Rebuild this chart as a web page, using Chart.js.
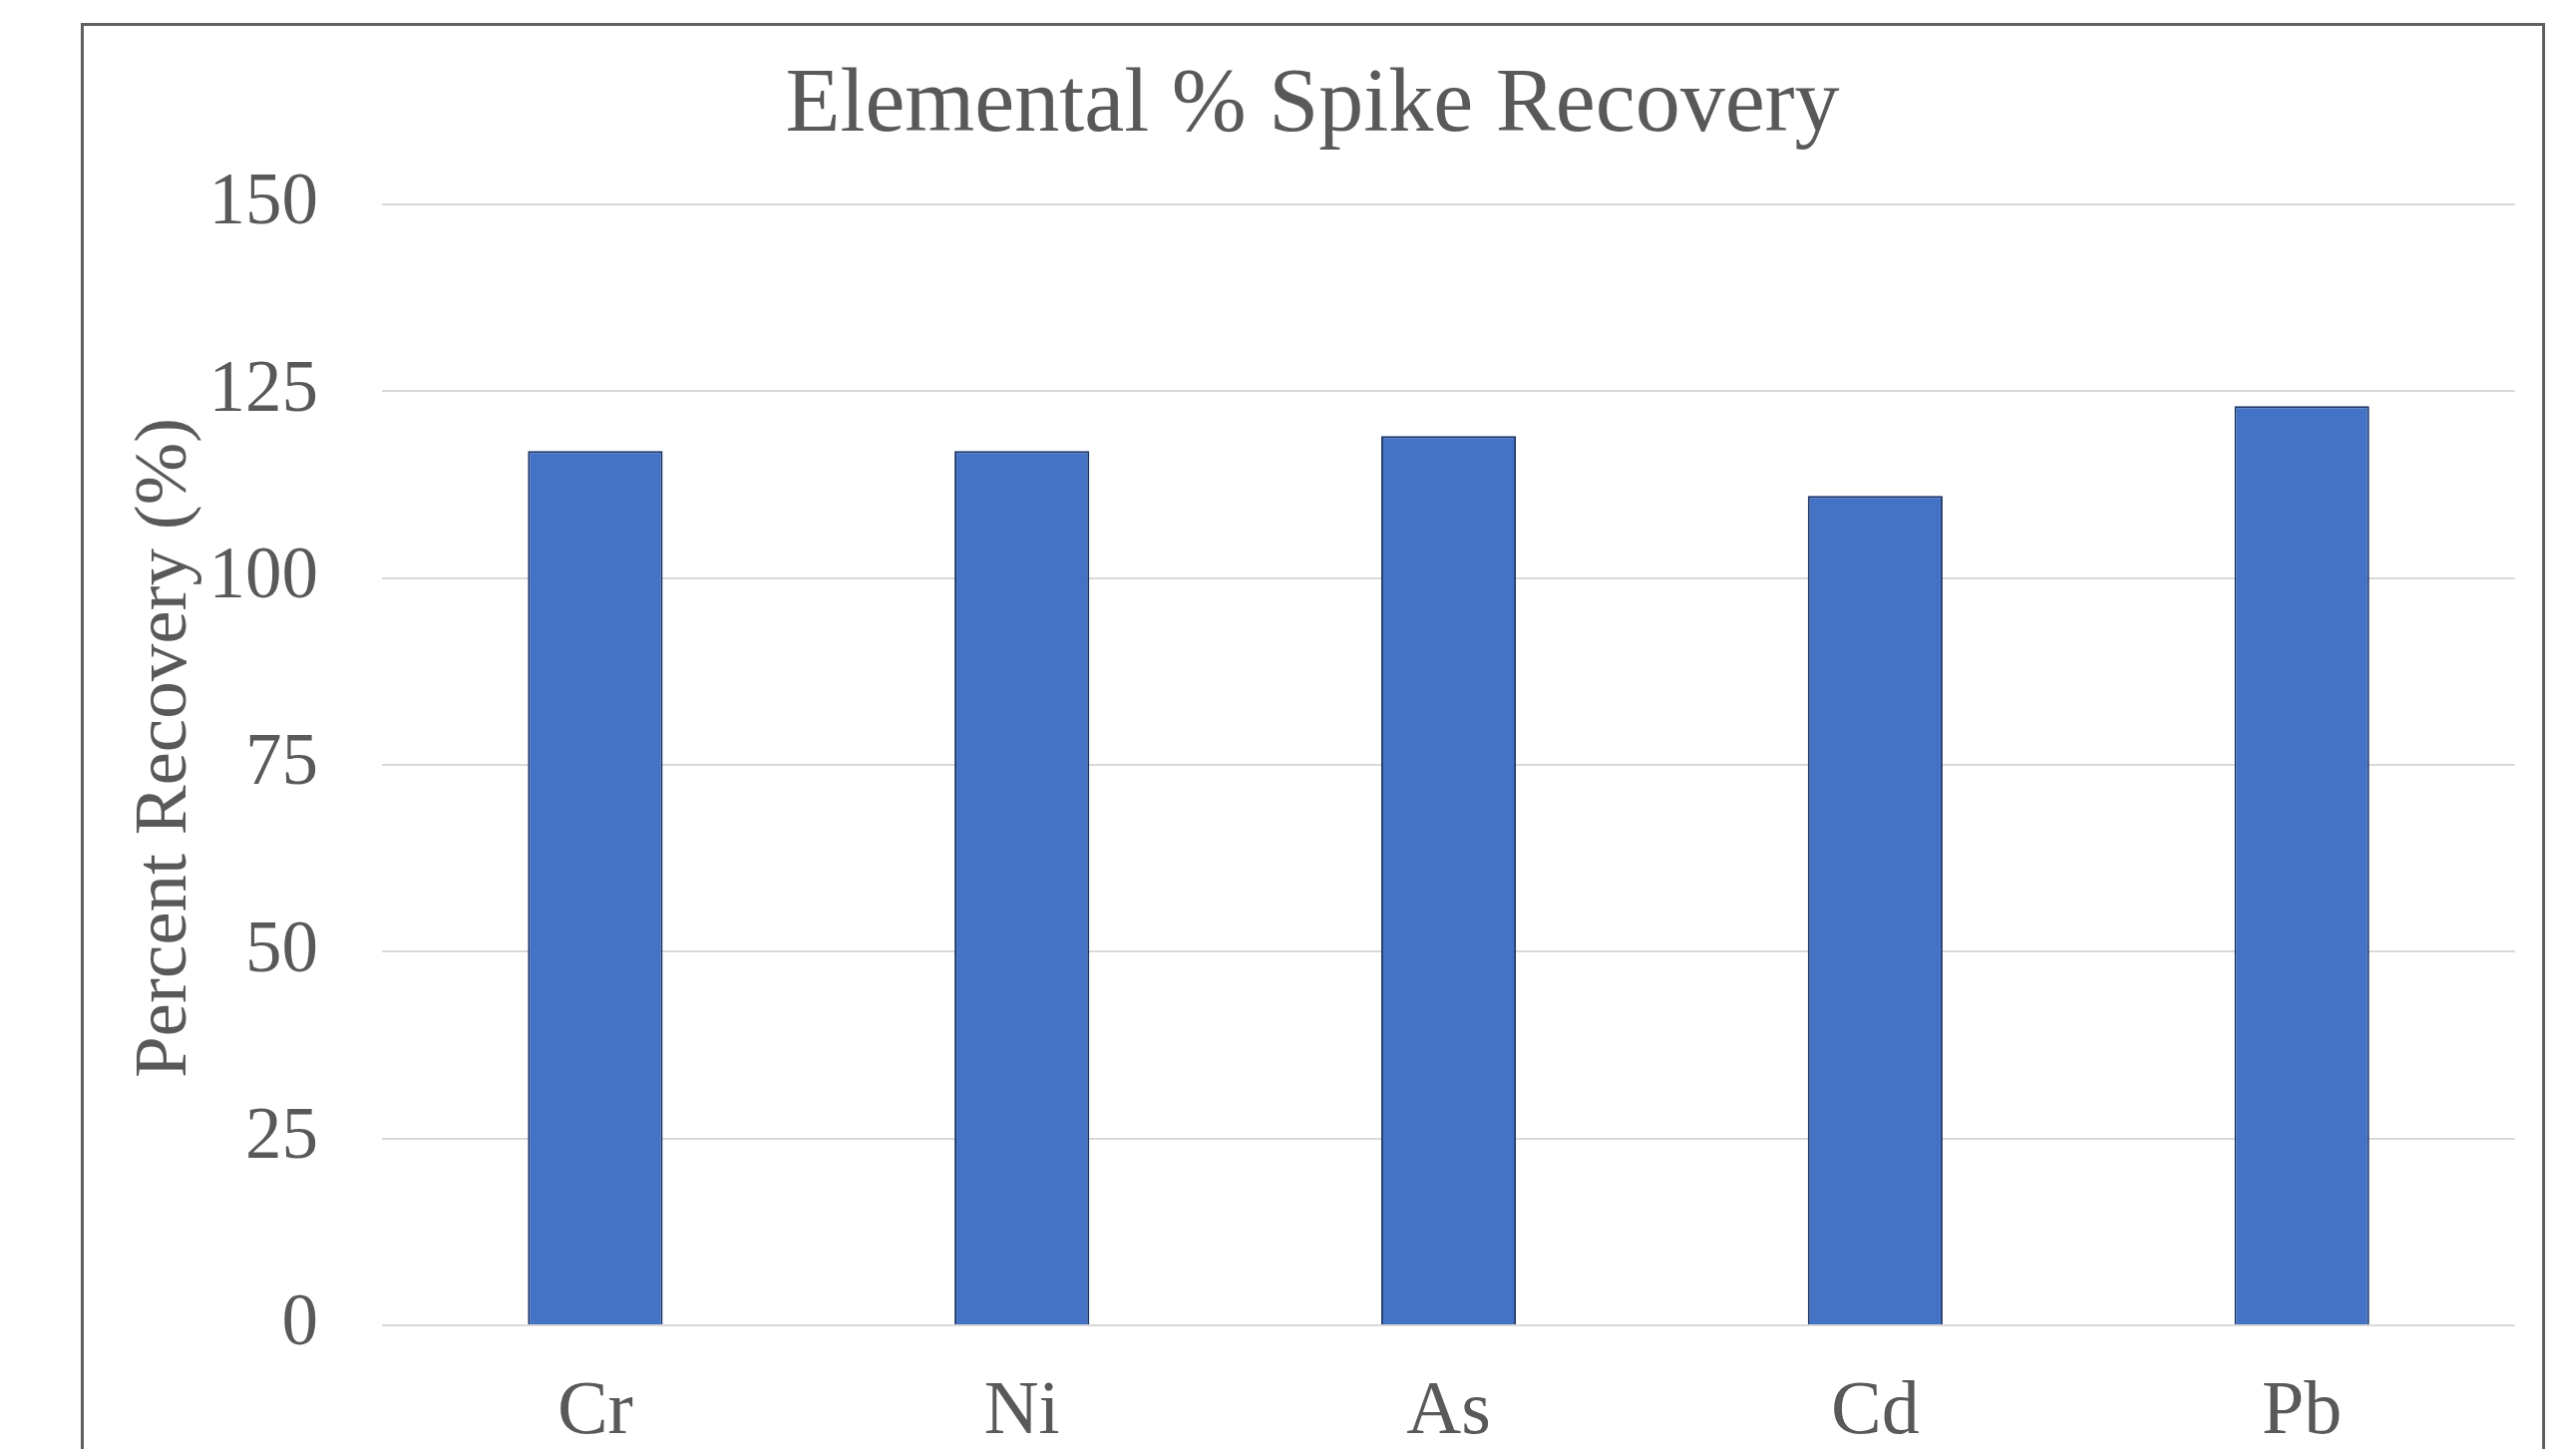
<!DOCTYPE html>
<html>
<head>
<meta charset="utf-8">
<script src="https://cdn.jsdelivr.net/npm/chart.js@4"></script>
<style>
    html, body { margin: 0; padding: 0; background: #fff; overflow: hidden; }
    #wrap { position: relative; width: 2583px; height: 1453px; }
    #frame { position: absolute; left: 81px; top: 23px; width: 2471px; height: 1500px; border: 3px solid #5f5f5f; box-sizing: border-box; }
    canvas { position: absolute; left: 0; top: 0; }
</style>
</head>
<body>
<div id="wrap">
    <div id="frame"></div>
    <canvas id="chart" width="2583" height="1453"></canvas>
</div>
<script>
var elements = ['Cr', 'Ni', 'As', 'Cd', 'Pb'];
var recovery = [117, 117, 119, 111, 123];
var yTicks = [0, 25, 50, 75, 100, 125, 150];

var textCol = '#595959';
var serif = "'Liberation Serif', 'Times New Roman', serif";

// y axis title, drawn by hand so it can sit a bit above the plot centre like the original
var yTitle = {
    id: 'yTitle',
    afterDraw: function(c) {
        var g = c.ctx;
        g.save();
        g.translate(166, 750);
        g.rotate(-Math.PI / 2);
        g.fillStyle = textCol;
        g.font = '75px ' + serif;
        g.textAlign = 'center';
        g.textBaseline = 'middle';
        g.fillText('Percent Recovery (%)', 0, 0);
        g.restore();
    }
};

var ctx = document.getElementById('chart');
var chart = new Chart(ctx, {
    type: 'bar',
    data: {
        labels: elements,
        datasets: [{
            data: recovery,
            backgroundColor: '#4472C4',
            borderColor: '#1C3568',
            borderWidth: 2,
            barPercentage: 0.316,
            categoryPercentage: 1
        }]
    },
    options: {
        responsive: false,
        animation: false,
        layout: { padding: { left: 110, right: 61, top: 0, bottom: 0 } },
        plugins: {
            legend: { display: false },
            tooltip: { enabled: false },
            title: {
                display: true,
                text: 'Elemental % Spike Recovery',
                color: textCol,
                font: { family: serif, size: 90, weight: 'normal' },
                padding: { top: 53, bottom: 44 }
            }
        },
        scales: {
            x: {
                grid: { display: false },
                border: { display: false },
                ticks: {
                    color: textCol,
                    font: { family: serif, size: 76 },
                    padding: 34,
                    maxRotation: 0
                },
                afterFit: function(scale) { scale.height = 1453 - 1329; }
            },
            y: {
                min: 0,
                max: 150,
                afterBuildTicks: function(scale) {
                    scale.ticks = yTicks.map(function(v) { return { value: v }; });
                },
                grid: { color: '#D9D9D9', lineWidth: 2, drawTicks: false },
                border: { display: false },
                ticks: {
                    color: textCol,
                    font: { family: serif, size: 73 },
                    padding: 64
                },
                afterFit: function(scale) { scale.width = 383 - 110; }
            }
        }
    },
    plugins: [yTitle]
});
</script>
</body>
</html>
